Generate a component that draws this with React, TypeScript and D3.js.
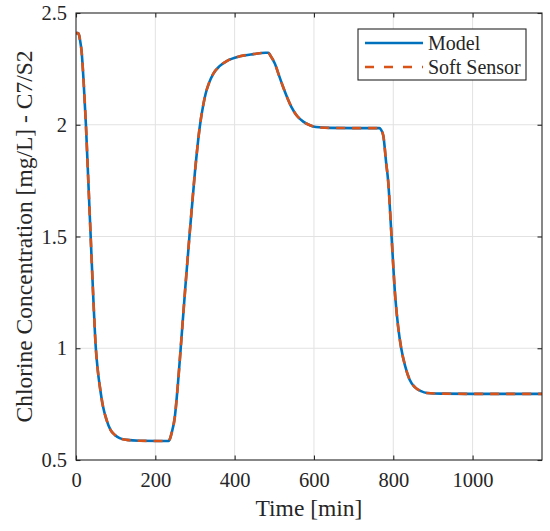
import React, { useEffect, useRef } from "react";
import * as d3 from "d3";

// time axis [min]
const timeMin = [
	0, 5, 8, 10, 14, 19, 25, 31, 37, 43, 50, 55, 60, 68, 77, 87, 98, 110, 128,
	160, 233, 237, 241, 249, 257, 264, 276, 286, 300, 312, 320, 327, 335, 346,
	362, 380, 413, 447, 478, 485, 490, 501, 512, 522, 533, 543, 557, 573, 590,
	605, 640, 700, 765, 769, 775, 782, 787, 795, 805, 812, 820, 830, 841, 855,
	870, 885, 920, 1000, 1175,
];

// chlorine concentration [mg/L], model output
const model = [
	2.41, 2.41, 2.4, 2.38, 2.33, 2.2, 2.0, 1.75, 1.5, 1.25, 1.0, 0.9, 0.83,
	0.74, 0.68, 0.635, 0.612, 0.598, 0.59, 0.586, 0.585, 0.595, 0.62, 0.69,
	0.84, 1.0, 1.28, 1.5, 1.79, 1.99, 2.08, 2.14, 2.185, 2.228, 2.262, 2.285,
	2.306, 2.316, 2.322, 2.322, 2.31, 2.275, 2.22, 2.17, 2.12, 2.08, 2.04,
	2.014, 1.998, 1.99, 1.986, 1.985, 1.985, 1.978, 1.95, 1.83, 1.75, 1.52,
	1.23, 1.1, 1.0, 0.92, 0.86, 0.825, 0.808, 0.8, 0.797, 0.796, 0.796,
];

// soft sensor estimate (tracks the model)
const softSensor = [...model];

const xTicks = [0, 200, 400, 600, 800, 1000];
const yTicks = [0.5, 1, 1.5, 2, 2.5];
const seriesNames = ["Model", "Soft Sensor"];

const W = 550;
const H = 531;
const FONT = "'Liberation Serif', 'Times New Roman', serif";
const AXIS = "#262626";
const BLUE = "#0072BD";
const ORANGE = "#D95319";

const App: React.FC = () => {
	const svgRef = useRef<SVGSVGElement>(null);

	useEffect(() => {
		if (!svgRef.current) return;
		const svg = d3.select(svgRef.current);
		svg.selectAll("*").remove();

		const margin = { top: 13, right: 8, bottom: 71, left: 76 };
		const width = W - margin.left - margin.right;
		const height = H - margin.top - margin.bottom;

		const x = d3.scaleLinear().domain([0, 1175]).range([0, width]);
		const y = d3.scaleLinear().domain([0.5, 2.5]).range([height, 0]);

		const g = svg
			.append("g")
			.attr("transform", `translate(${margin.left},${margin.top})`);

		g.append("rect")
			.attr("width", width)
			.attr("height", height)
			.attr("fill", "#fff");

		// grid
		g.append("g")
			.selectAll("line")
			.data(xTicks.slice(1))
			.join("line")
			.attr("x1", (d) => x(d))
			.attr("x2", (d) => x(d))
			.attr("y1", 0)
			.attr("y2", height)
			.attr("stroke", "#e2e2e2");
		g.append("g")
			.selectAll("line")
			.data(yTicks.slice(1, -1))
			.join("line")
			.attr("y1", (d) => y(d))
			.attr("y2", (d) => y(d))
			.attr("x1", 0)
			.attr("x2", width)
			.attr("stroke", "#e2e2e2");

		// lines
		const line = d3
			.line<number>()
			.x((_, i) => x(timeMin[i]))
			.y((d) => y(d))
			.curve(d3.curveMonotoneX);

		g.append("path")
			.datum(model)
			.attr("d", line)
			.attr("fill", "none")
			.attr("stroke", BLUE)
			.attr("stroke-width", 2.6);

		g.append("path")
			.datum(softSensor)
			.attr("d", line)
			.attr("fill", "none")
			.attr("stroke", ORANGE)
			.attr("stroke-width", 2.6)
			.attr("stroke-dasharray", "9,7");

		// axes (ticks inside, box on)
		const tick = 4.5;
		const axisBottom = d3
			.axisBottom(x)
			.tickValues(xTicks)
			.tickSize(-tick)
			.tickPadding(12)
			.tickFormat(d3.format("d"));
		const axisTop = d3.axisTop(x).tickValues(xTicks).tickSize(-tick).tickFormat(() => "");
		const axisLeft = d3
			.axisLeft(y)
			.tickValues(yTicks)
			.tickSize(-tick)
			.tickPadding(9)
			.tickFormat((d) => d3.format("~g")(d as number));
		const axisRight = d3.axisRight(y).tickValues(yTicks).tickSize(-tick).tickFormat(() => "");

		const styleAxis = (sel: d3.Selection<SVGGElement, unknown, null, undefined>) => {
			sel.select(".domain").attr("stroke", AXIS).attr("stroke-width", 1.1);
			sel.selectAll(".tick line").attr("stroke", AXIS).attr("stroke-width", 1.1);
			sel.selectAll(".tick text")
				.attr("fill", AXIS)
				.attr("font-family", FONT)
				.attr("font-size", 20.5);
		};

		g.append("g").attr("transform", `translate(0,${height})`).call(axisBottom).call(styleAxis);
		g.append("g").call(axisTop).call(styleAxis);
		g.append("g").call(axisLeft).call(styleAxis);
		g.append("g").attr("transform", `translate(${width},0)`).call(axisRight).call(styleAxis);

		g.selectAll(".domain").attr("d", null);
		g.append("rect")
			.attr("width", width)
			.attr("height", height)
			.attr("fill", "none")
			.attr("stroke", AXIS)
			.attr("stroke-width", 1.1);

		// axis labels
		svg.append("text")
			.attr("x", margin.left + width / 2)
			.attr("y", 516)
			.attr("text-anchor", "middle")
			.attr("font-family", FONT)
			.attr("font-size", 23.5)
			.attr("fill", AXIS)
			.text("Time [min]");

		svg.append("text")
			.attr("transform", `translate(32,${margin.top + height / 2}) rotate(-90)`)
			.attr("text-anchor", "middle")
			.attr("font-family", FONT)
			.attr("font-size", 23.5)
			.attr("fill", AXIS)
			.text("Chlorine Concentration [mg/L] - C7/S2");

		// legend
		const lg = svg.append("g").attr("transform", "translate(358,29)");
		lg.append("rect")
			.attr("width", 168)
			.attr("height", 51)
			.attr("fill", "#fff")
			.attr("stroke", AXIS)
			.attr("stroke-width", 1.1);
		const items = lg
			.selectAll("g")
			.data(seriesNames)
			.join("g")
			.attr("transform", (_, i) => `translate(0,${14 + i * 24})`);
		items
			.append("line")
			.attr("x1", 7)
			.attr("x2", 65)
			.attr("stroke", (_, i) => (i === 0 ? BLUE : ORANGE))
			.attr("stroke-width", 2.6)
			.attr("stroke-dasharray", (_, i) => (i === 0 ? null : "9,10"));
		items
			.append("text")
			.attr("x", 70)
			.attr("y", 7)
			.attr("font-family", FONT)
			.attr("font-size", 20)
			.attr("fill", AXIS)
			.text((d) => d);
	}, []);

	return (
		<svg
			ref={svgRef}
			width={W}
			height={H}
			style={{ position: "absolute", left: 0, top: 0, background: "#fff" }}
		/>
	);
};

export default App;
